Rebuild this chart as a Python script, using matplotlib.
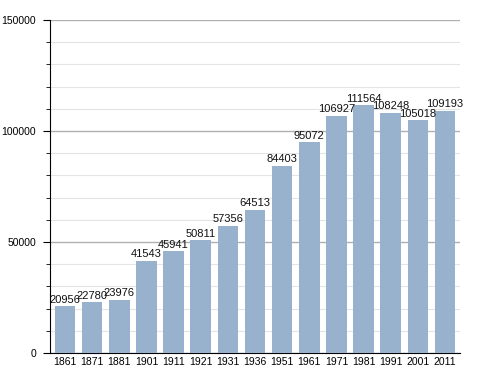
import matplotlib
matplotlib.use("Agg")
import matplotlib.pyplot as plt
from matplotlib.ticker import MultipleLocator

years = ["1861", "1871", "1881", "1901", "1911", "1921", "1931", "1936",
         "1951", "1961", "1971", "1981", "1991", "2001", "2011"]
population = [20956, 22780, 23976, 41543, 45941, 50811, 57356, 64513,
              84403, 95072, 106927, 111564, 108248, 105018, 109193]

plt.rcParams['font.family'] = ['Liberation Sans', 'DejaVu Sans']

fig = plt.figure(figsize=(4.88, 3.73), dpi=100)
ax = fig.add_axes([0.1025, 0.0536, 0.84, 0.8928])

x = range(len(years))
bars = ax.bar(x, population, width=0.76, color="#98b1cc", zorder=3)
for xi, v in zip(x, population):
    ax.text(xi, v + 600, str(v), ha="center", va="bottom", fontsize=8, color="#111111", zorder=4)

ax.set_xlim(-0.55, len(years) - 0.45)
ax.set_ylim(0, 150000)
ax.yaxis.set_major_locator(MultipleLocator(50000))
ax.yaxis.set_minor_locator(MultipleLocator(10000))
ax.grid(axis="y", which="major", color="#b0b0b0", linewidth=1.0, zorder=0)
ax.grid(axis="y", which="minor", color="#e4e4e4", linewidth=0.8, zorder=0)
ax.set_xticks(list(x))
ax.set_xticklabels(years, fontsize=7.5)
ax.tick_params(axis="x", length=0, pad=3)
ax.tick_params(axis="y", which="major", length=5, labelsize=7.5, pad=5)
ax.tick_params(axis="y", which="minor", length=3)

for s in ["top", "right"]:
    ax.spines[s].set_visible(False)
ax.spines["left"].set_color("black")
ax.spines["bottom"].set_color("black")

fig.savefig("out.png", dpi=100)
